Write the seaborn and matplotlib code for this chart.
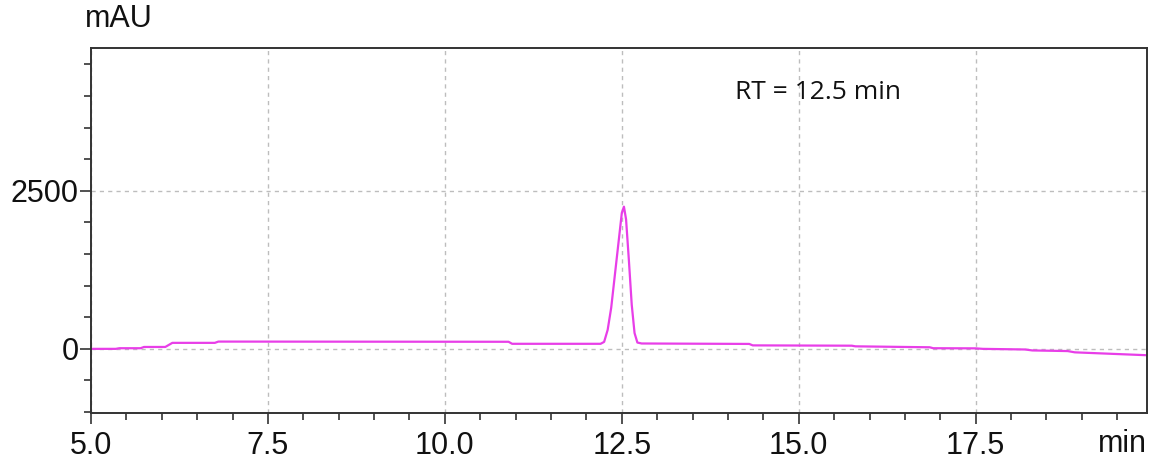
import numpy as np
import pandas as pd
import matplotlib
matplotlib.use("Agg")
import matplotlib.pyplot as plt
from matplotlib.ticker import MultipleLocator, FixedLocator
import seaborn as sns

# retention time (min) and absorbance (mAU)
time_min = [5.0, 5.35, 5.4, 5.7, 5.75, 6.05, 6.15, 6.75, 6.8, 10.9, 10.95,
            12.20, 12.25, 12.30, 12.35, 12.40, 12.45, 12.50, 12.53, 12.56,
            12.60, 12.64, 12.68, 12.72, 12.78, 14.30, 14.35, 15.75, 15.8,
            16.85, 16.9, 17.5, 17.6, 18.2, 18.3, 18.8, 18.9, 19.9]
signal_mau = [0, 0, 10, 10, 30, 30, 95, 95, 115, 112, 80,
              80, 110, 300, 650, 1150, 1650, 2150, 2250, 2050,
              1400, 700, 250, 100, 85, 78, 55, 50, 40,
              25, 10, 8, 0, -10, -25, -35, -55, -100]

x_ticks = [5.0, 7.5, 10.0, 12.5, 15.0, 17.5]
x_tick_labels = ["5.0", "7.5", "10.0", "12.5", "15.0", "17.5"]
y_ticks = [0, 2500]
y_tick_labels = ["0", "2500"]
annotation = "RT = 12.5 min"

sns.set_style("white")
plt.rcParams["font.family"] = ["Liberation Sans", "DejaVu Sans"]

fig = plt.figure(figsize=(11.56, 4.59), dpi=100)
ax = fig.add_axes([0.0787, 0.1002, 0.9135, 0.7952])

df = pd.DataFrame({"t": time_min, "s": signal_mau})
sns.lineplot(data=df, x="t", y="s", ax=ax, color="#e83ee8", linewidth=1.6,
             estimator=None, sort=False)

ax.set_xlim(5.0, 19.92)
ax.set_ylim(-1015, 4760)

ax.xaxis.set_major_locator(FixedLocator(x_ticks))
ax.set_xticklabels(x_tick_labels)
ax.xaxis.set_minor_locator(MultipleLocator(0.5))
ax.yaxis.set_major_locator(FixedLocator(y_ticks))
ax.set_yticklabels(y_tick_labels)
ax.yaxis.set_minor_locator(MultipleLocator(500))

ax.tick_params(axis="both", which="both", bottom=True, left=True, top=False, right=False)
ax.tick_params(axis="both", which="major", direction="out", length=8, width=1.2,
               color="#333333", labelsize=22, labelcolor="#111111")
ax.tick_params(axis="both", which="minor", direction="out", length=5, width=1.2,
               color="#333333")
ax.tick_params(axis="x", which="major", pad=5)
ax.tick_params(axis="y", which="major", pad=1)

ax.grid(True, which="major", linestyle=(0, (3, 3)), color="#bdbdbd", linewidth=1.0)
for s in ax.spines.values():
    s.set_color("#333333")
    s.set_linewidth(1.4)

ax.set_xlabel("")
ax.set_ylabel("")

fig.text(0.0735, 0.925, "mAU", fontsize=22, color="#111111", ha="left", va="bottom")
ax.text(1.0, -0.045, "min", transform=ax.transAxes, fontsize=22, color="#111111",
        ha="right", va="top")
ax.text(14.1, 4050, annotation, fontsize=19, color="#111111", ha="left",
        va="center", family=["Open Sans", "DejaVu Sans"])

fig.savefig("out.png", dpi=100)
